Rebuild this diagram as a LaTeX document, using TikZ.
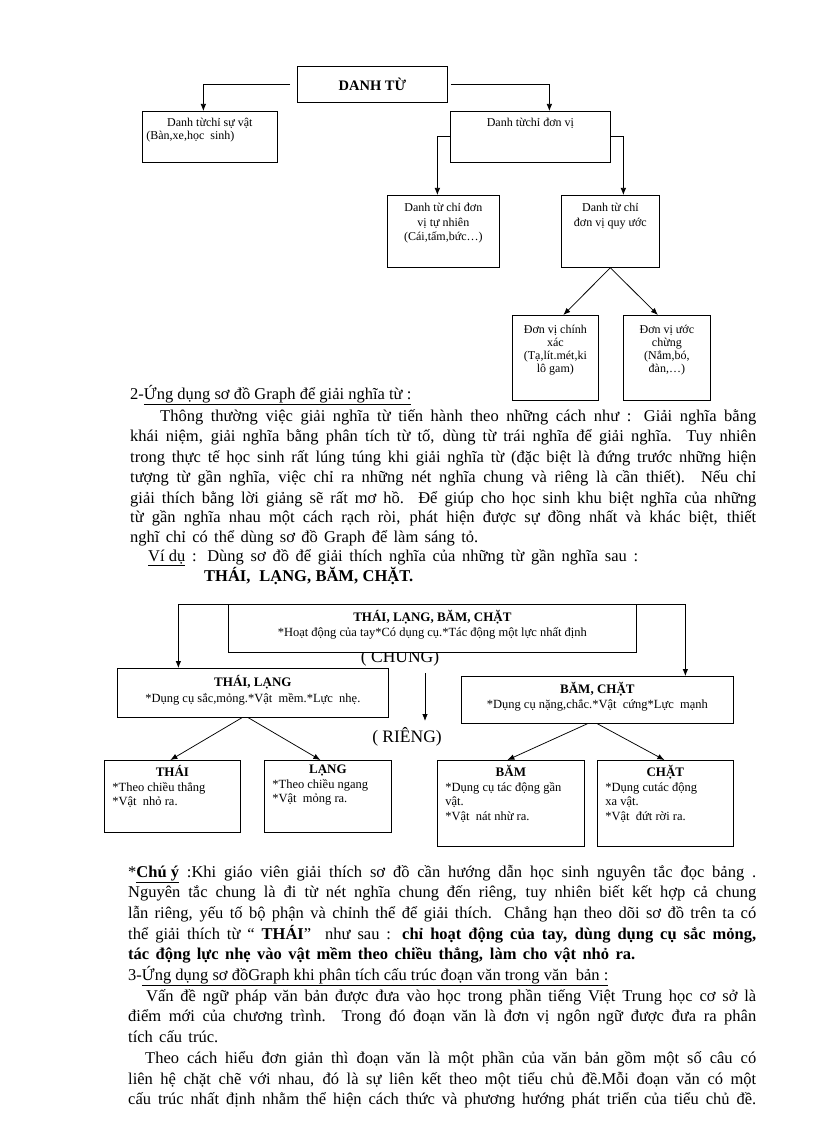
\documentclass[tikz,border=0pt]{standalone}
\usepackage{fontspec}
\setmainfont{Liberation Serif}
\usetikzlibrary{arrows.meta}
\newcommand{\dfont}{\fontsize{12}{13}\selectfont}
\newcommand{\tfont}{\fontsize{16.5}{20}\selectfont}
\newcommand{\jl}[2]{\makebox[#1][s]{#2}}
\begin{document}
\begin{tikzpicture}[x=1pt,y=-1pt,
  bx/.style={draw,line width=0.75pt,inner sep=0pt,anchor=north west,fill=white},
  arr/.style={line width=0.75pt,-{Latex[length=7pt,width=5.5pt]}},
  big/.style={inner sep=0pt,font=\fontsize{17.5}{20}\selectfont},
  tl/.style={anchor=base west,inner sep=0pt,font=\tfont}]
\fill[white] (0,0) rectangle (816,1123);
\useasboundingbox (0,0) rectangle (816,1123);

% ---------- first diagram ----------
\node[bx] (danh) at (297,66) {\parbox[c][36pt][c]{150pt}{\centering\fontsize{14.5}{16}\selectfont\bfseries DANH TỪ}};
\node[bx] (sv) at (142,111) {\parbox[c][51pt][t]{135pt}{\dfont\vspace*{7pt}{\centering Danh từchỉ sự vật\par}\hspace*{4pt}(Bàn,xe,học\ \ sinh)}};
\node[bx] (dv) at (450,111) {\parbox[c][51pt][t]{160pt}{\dfont\vspace*{7pt}\centering Danh từchỉ đơn vị\par}};
\node[bx] (tn) at (387,195) {\parbox[c][72pt][t]{112pt}{\fontsize{12}{14.5}\selectfont\vspace*{8pt}\centering Danh từ chỉ đơn\\ vị tự nhiên\\ (Cái,tấm,bức…)\par}};
\node[bx] (qu) at (561,195) {\parbox[c][72pt][t]{98pt}{\fontsize{12}{14.5}\selectfont\vspace*{8pt}\centering Danh từ chỉ\\ đơn vị quy ước\par}};
\node[bx] (cx) at (512,315) {\parbox[c][85pt][t]{86pt}{\fontsize{12}{12.8}\selectfont\vspace*{10pt}\centering Đơn vị chính\\ xác\\ (Tạ,lít.mét,ki\\ lô gam)\par}};
\node[bx] (uc) at (623,315) {\parbox[c][85pt][t]{87pt}{\fontsize{12}{12.8}\selectfont\vspace*{10pt}\centering Đơn vị ước\\ chừng\\ (Nắm,bó,\\ đàn,…)\par}};

\draw[arr] ([xshift=-7pt]danh.west) -| ([xshift=-6.5pt]sv.north);
\draw[arr] ([xshift=3pt]danh.east) -| ([xshift=19pt]dv.north);
\draw[arr] (dv.west) -| ([xshift=-6pt]tn.north);
\draw[arr] (dv.east) -| ([xshift=13pt]qu.north);
\draw[arr] (qu.south) -- ([xshift=8pt]cx.north);
\draw[arr] (qu.south) -- ([xshift=-9pt]uc.north);

% ---------- text block 1 ----------
\node[tl] (h2) at (130,399) {\jl{301pt}{2-\underline{Ứng dụng sơ đồ Graph để giải nghĩa từ :}}};
\node[tl] (p1) at (160,421) {\jl{596pt}{Thông thường việc giải nghĩa từ tiến hành theo những cách như : Giải nghĩa bằng}};
\node[tl] (p2) at (130,441.5) {\jl{626pt}{khái niệm, giải nghĩa bằng phân tích từ tố, dùng từ trái nghĩa để giải nghĩa. Tuy nhiên}};
\node[tl] (p3) at (130,462) {\jl{626pt}{trong thực tế học sinh rất lúng túng khi giải nghĩa từ (đặc biệt là đứng trước những hiện}};
\node[tl] (p4) at (130,482.5) {\jl{626pt}{tượng từ gần nghĩa, việc chỉ ra những nét nghĩa chung và riêng là cần thiết). Nếu chỉ}};
\node[tl] (p5) at (130,503) {\jl{626pt}{giải thích bằng lời giảng sẽ rất mơ hồ. Để giúp cho học sinh khu biệt nghĩa của những}};
\node[tl] (p6) at (130,522.5) {\jl{626pt}{từ gần nghĩa nhau một cách rạch ròi, phát hiện được sự đồng nhất và khác biệt, thiết}};
\node[tl] (p7) at (130,542) {\jl{348pt}{nghĩ chỉ có thể dùng sơ đồ Graph để làm sáng tỏ.}};
\node[tl] (p8) at (148,561) {\jl{490pt}{\underline{Ví dụ} : Dùng sơ đồ để giải thích nghĩa của những từ gần nghĩa sau :}};
\node[tl] (p9) at (204,581) {\jl{209pt}{\bfseries THÁI,\ \ LẠNG, BĂM, CHẶT.}};

% ---------- second diagram ----------
\node[big] (chung) at (400,658) {( CHUNG)};
\node[bx] (all) at (228,604) {\parbox[c][48pt][t]{408pt}{\vspace*{6pt}\centering{\fontsize{13}{15}\selectfont\bfseries THÁI, LẠNG, BĂM, CHẶT\par}{\fontsize{12.5}{15}\selectfont *Hoạt động của tay*Có dụng cụ.*Tác động một lực nhất định\par}}};
\node[bx] (tlb) at (117,668) {\parbox[c][49pt][t]{271pt}{\vspace*{7pt}\centering{\fontsize{13}{15}\selectfont\bfseries THÁI, LẠNG\par}{\fontsize{12.5}{15.5}\selectfont *Dụng cụ sắc,mỏng.*Vật\ \ mềm.*Lực\ \ nhẹ.\par}}};
\node[bx] (bc) at (461,676) {\parbox[c][47pt][t]{272pt}{\vspace*{6pt}\centering{\fontsize{13}{15}\selectfont\bfseries BĂM, CHẶT\par}{\fontsize{12.5}{15}\selectfont *Dụng cụ nặng,chắc.*Vật\ \ cứng*Lực\ \ mạnh\par}}};
\node[big] (rieng) at (407,737) {( RIÊNG)};
\coordinate (m1) at (425,673);
\coordinate (m2) at (425,721);
\draw[arr] (m1) -- (m2);

\node[bx] (th) at (104,760) {\parbox[c][72pt][t]{136pt}{\vspace*{5pt}{\centering\fontsize{13}{14}\selectfont\bfseries THÁI\par}\fontsize{12.5}{14.5}\selectfont\raggedright\leftskip=8pt *Theo chiều thẳng\par *Vật\ \ nhỏ ra.\par}};
\node[bx] (lg) at (264,760) {\parbox[c][72pt][t]{127pt}{\vspace*{5pt}{\centering\fontsize{13}{14}\selectfont\bfseries LẠNG\par}\fontsize{12.5}{14.5}\selectfont\raggedright\leftskip=8pt *Theo chiều ngang\par *Vật\ \ mỏng ra.\par}};
\node[bx] (bm) at (437,760) {\parbox[c][86pt][t]{147pt}{\vspace*{5pt}{\centering\fontsize{13}{14}\selectfont\bfseries BĂM\par}\fontsize{12.5}{14.5}\selectfont\raggedright\leftskip=8pt *Dụng cụ tác động gần\par vật.\par *Vật\ \ nát nhừ ra.\par}};
\node[bx] (ch) at (597,760) {\parbox[c][86pt][t]{136pt}{\vspace*{5pt}{\centering\fontsize{13}{14}\selectfont\bfseries CHẶT\par}\fontsize{12.5}{14.5}\selectfont\raggedright\leftskip=8pt *Dụng cutác động\par xa vật.\par *Vật\ \ đứt rời ra.\par}};

\draw[arr] (all.north west) -| ([xshift=-74.5pt]tlb.north);
\draw[arr] (all.north east) -| ([xshift=88pt]bc.north);
\draw[arr] ([xshift=-11pt]tlb.south) -- ([xshift=-2pt]th.north);
\draw[arr] ([xshift=-4.5pt]tlb.south) -- ([xshift=-7.5pt]lg.north);
\draw[arr] ([xshift=-10pt]bc.south) -- ([xshift=-3.5pt]bm.north);
\draw[arr] ([xshift=0pt]bc.south) -- ([xshift=-1pt]ch.north);

% ---------- text block 2 ----------
\node[tl] (b1) at (128,877) {\jl{628pt}{*\textbf{\underline{Chú ý}} :Khi giáo viên giải thích sơ đồ cần hướng dẫn học sinh nguyên tắc đọc bảng .}};
\node[tl] (b2) at (128,897.7) {\jl{628pt}{Nguyên tắc chung là đi từ nét nghĩa chung đến riêng, tuy nhiên biết kết hợp cả chung}};
\node[tl] (b3) at (128,918.4) {\jl{628pt}{lẫn riêng, yếu tố bộ phận và chỉnh thể để giải thích. Chẳng hạn theo dõi sơ đồ trên ta có}};
\node[tl] (b4) at (128,939.1) {\jl{628pt}{thể giải thích từ “ \textbf{THÁI}”\ \ như sau : \textbf{chỉ hoạt động của tay, dùng dụng cụ sắc mỏng,}}};
\node[tl] (b5) at (128,959.8) {\jl{507pt}{\bfseries tác động lực nhẹ vào vật mềm theo chiều thẳng, làm cho vật nhỏ ra.}};
\node[tl] (b6) at (128,980.5) {\jl{501pt}{3-\underline{Ứng dụng sơ đồGraph khi phân tích cấu trúc đoạn văn trong văn\ \ bản :}}};
\node[tl] (b7) at (146,1001.2) {\jl{610pt}{Vấn đề ngữ pháp văn bản được đưa vào học trong phần tiếng Việt Trung học cơ sở là}};
\node[tl] (b8) at (128,1021.9) {\jl{628pt}{điểm mới của chương trình. Trong đó đoạn văn là đơn vị ngôn ngữ được đưa ra phân}};
\node[tl] (b9) at (128,1042.6) {\jl{90pt}{tích cấu trúc.}};
\node[tl] (b10) at (145,1063.3) {\jl{611pt}{Theo cách hiểu đơn giản thì đoạn văn là một phần của văn bản gồm một số câu có}};
\node[tl] (b11) at (128,1084) {\jl{628pt}{liên hệ chặt chẽ với nhau, đó là sự liên kết theo một tiểu chủ đề.Mỗi đoạn văn có một}};
\node[tl] (b12) at (128,1104.7) {\jl{628pt}{cấu trúc nhất định nhằm thể hiện cách thức và phương hướng phát triển của tiểu chủ đề.}};
\end{tikzpicture}
\end{document}
